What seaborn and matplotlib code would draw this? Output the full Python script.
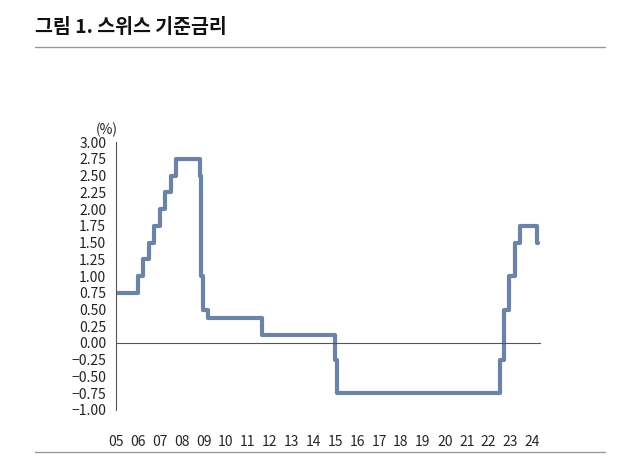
import matplotlib
matplotlib.use("Agg")
import matplotlib.pyplot as plt
import seaborn as sns
import pandas as pd

# 스위스 기준금리 (차트에서 읽은 값, 연도 소수)
dates = [2005.0, 2006.0, 2006.25, 2006.5, 2006.75, 2007.0, 2007.25, 2007.5, 2007.75,
         2008.83, 2008.9, 2008.95, 2009.2, 2011.65, 2015.0, 2015.07, 2022.5, 2022.7,
         2022.95, 2023.2, 2023.45, 2024.2, 2024.25]
rates = [0.75, 1.0, 1.25, 1.5, 1.75, 2.0, 2.25, 2.5, 2.75,
         2.5, 1.0, 0.5, 0.375, 0.125, -0.25, -0.75, -0.25, 0.5,
         1.0, 1.5, 1.75, 1.5, 1.5]
x_ticks = list(range(2005, 2025))
x_labels = [f"{y % 100:02d}" for y in x_ticks]
y_ticks = [v / 4 for v in range(-4, 13)]

LINE_COLOR = "#6a83a6"
TEXT = "#222222"

sns.set_style("white")
plt.rcParams['font.family'] = ['Noto Sans CJK KR', 'DejaVu Sans']

df = pd.DataFrame({"date": dates, "rate": rates})

fig = plt.figure(figsize=(6.37, 4.57), dpi=100)
ax = fig.add_axes([0.182, 0.103, 0.666, 0.586])
sns.lineplot(data=df, x="date", y="rate", drawstyle="steps-post",
             color=LINE_COLOR, linewidth=3, ax=ax)

ax.set_xlim(2005, 2024.35)
ax.set_ylim(-1, 3)
ax.set_yticks(y_ticks)
ax.set_yticklabels([f"{v:.2f}".replace("-", "\u2212") for v in y_ticks], fontsize=10, color=TEXT)
ax.set_xticks(x_ticks)
ax.set_xticklabels(x_labels, fontsize=10, color=TEXT)
ax.set_xlabel("")
ax.set_ylabel("")

for s in ["top", "right"]:
    ax.spines[s].set_visible(False)
ax.spines["left"].set_color("#555555")
ax.spines["bottom"].set_color("#555555")
ax.spines["bottom"].set_position(("data", 0))
ax.tick_params(axis="y", direction="out", length=4, width=0.8, color="#555555", pad=3)
ax.tick_params(axis="x", direction="out", length=4, width=0.8, color="#555555", pad=62)

fig.text(0.185, 0.70, "(%)", fontsize=10, color=TEXT, ha="right", va="bottom")
fig.text(0.055, 0.94, "그림 1. 스위스 기준금리", fontsize=14, fontweight="bold",
         color="#111111", ha="left", va="center")
fig.add_artist(plt.Line2D([0.055, 0.95], [0.897, 0.897], color="#999999", linewidth=1))
fig.add_artist(plt.Line2D([0.055, 0.95], [0.011, 0.011], color="#999999", linewidth=1))

fig.savefig("out.png", dpi=100)
